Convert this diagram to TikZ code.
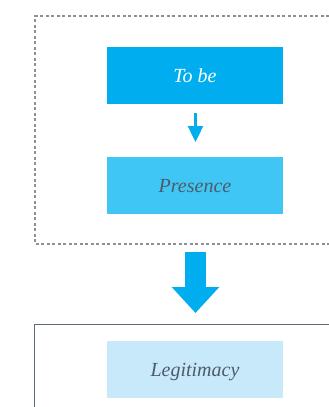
\documentclass[tikz,border=0pt]{standalone}
\usepackage{fontspec}
\setmainfont{Liberation Serif}
\usetikzlibrary{arrows.meta}
\definecolor{c1}{HTML}{00AEEF}
\definecolor{c2}{HTML}{40C6F4}
\definecolor{c3}{HTML}{C8E9F9}
\definecolor{txt}{HTML}{4D5B69}
\definecolor{framec}{HTML}{5E6B78}
\definecolor{dashc}{HTML}{8A9199}
\begin{document}
\begin{tikzpicture}[x=1pt,y=-1pt,
  box/.style={minimum width=176pt,minimum height=57pt,inner sep=0pt,text height=13.5pt,text depth=0pt,font=\itshape\fontsize{20}{24}\selectfont},
]
\useasboundingbox (0,0) rectangle (329,407);
\clip (0,0) rectangle (329,407);
\draw[dashc,line width=1.4pt,dash pattern=on 3pt off 2.5pt] (340,16) -- (35,16) -- (35,244) -- (340,244);
\draw[framec,line width=1pt] (340,324) -- (34,324) -- (34,420);
\node[box,fill=c1,text=white] (a) at (195,75.5) {To be};
\node[box,fill=c2,text=txt] (b) at (195,185.5) {Presence};
\node[box,fill=c3,text=txt] (c) at (195,369.5) {Legitimacy};
\coordinate (s1) at (195.5,113);
\coordinate (e1) at (195.5,142);
\draw[c1,line width=2.4pt,-{Triangle[length=16pt,width=15pt]}] (s1) -- (e1);
\coordinate (s2) at (195.5,252);
\coordinate (e2) at (195.5,313);
\draw[c1,line width=21pt,-{Triangle[length=26pt,width=46pt]}] (s2) -- (e2);
\end{tikzpicture}
\end{document}
